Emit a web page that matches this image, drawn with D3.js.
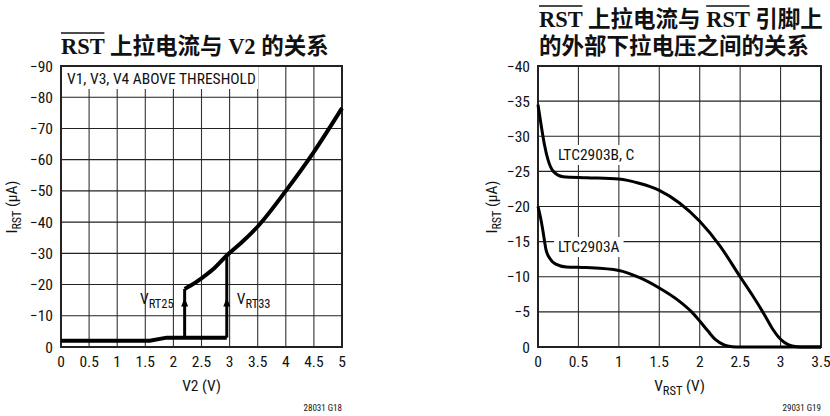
<!DOCTYPE html>
<html>
<head>
<meta charset="utf-8">
<script src="https://d3js.org/d3.v7.min.js"></script>
<style>
body { margin: 0; background: #fff; }
text { fill: #111; }
</style>
</head>
<body>
<svg id="chart" width="830" height="416"></svg>
<script>
// ---- left chart data: IRST vs V2 ----
const leftXTicks = [0, 0.5, 1, 1.5, 2, 2.5, 3, 3.5, 4, 4.5, 5];
const leftYTicks = [0, -10, -20, -30, -40, -50, -60, -70, -80, -90];
const lowX = [0, 1.58, 1.88, 2.95];
const lowY = [-2, -2, -3, -3];
const rt25X = [2.2, 2.2];
const rt25Y = [-3, -18.6];
const rt33X = [2.95, 2.95];
const rt33Y = [-3, -29.3];
const mainX = [2.2, 2.3, 2.5, 2.7, 2.95, 3.25, 3.5, 4, 4.5, 5];
const mainY = [-18.6, -19.6, -22, -24.8, -29.3, -34.1, -38.6, -50, -62.5, -76.5];

// ---- right chart data: IRST vs VRST ----
const rightXTicks = [0, 0.5, 1, 1.5, 2, 2.5, 3, 3.5];
const rightYTicks = [0, -5, -10, -15, -20, -25, -30, -35, -40];
const bcX = [0, 0.04, 0.08, 0.125, 0.19, 0.31, 0.6, 1.0, 1.25, 1.5, 1.75, 2.0, 2.25, 2.5, 2.65, 2.8, 2.9, 3.0, 3.1, 3.2, 3.3, 3.5];
const bcY = [-34.5, -31.5, -28.8, -26.6, -25, -24.25, -24.1, -23.9, -23.3, -22.3, -20.5, -17.9, -14.4, -10.0, -7.4, -4.6, -2.6, -1.1, -0.3, -0.05, 0, 0];
const aX = [0, 0.03, 0.06, 0.1, 0.147, 0.22, 0.35, 0.6, 1.0, 1.25, 1.5, 1.75, 1.9, 2.0, 2.1, 2.2, 2.3, 2.4, 2.5, 3.5];
const aY = [-20, -18.5, -16.6, -13.8, -12.6, -11.8, -11.4, -11.3, -10.9, -9.9, -8.4, -6.5, -5.0, -3.7, -2.3, -1.0, -0.3, -0.05, 0, 0];

const svg = d3.select("#chart");
const FONT = "'Liberation Sans Narrow', 'Arial Narrow', 'Roboto Condensed', sans-serif";
const TITLE_FONT = "'Liberation Serif', 'Noto Sans CJK SC', serif";

function drawTitle(x, y, parts) {
    // parts: [text, overline?]
    const t = svg.append("text")
        .attr("x", x).attr("y", y)
        .style("font-family", TITLE_FONT)
        .style("font-weight", "bold")
        .style("font-size", "22.5px");
    parts.forEach(p => t.append("tspan").text(p[0]));
    // overline for RST pieces
    let idx = 0;
    const node = t.node();
    parts.forEach(p => {
        if (p[1]) {
            const a = node.getExtentOfChar(idx);
            const b = node.getExtentOfChar(idx + p[0].length - 1);
            svg.append("line")
                .attr("x1", a.x).attr("x2", b.x + b.width)
                .attr("y1", y - 21).attr("y2", y - 21)
                .attr("stroke", "#111").attr("stroke-width", 1.6);
        }
        idx += p[0].length;
    });
}

function drawFrame(x, y, xTicks, yTicks) {
    const [x0, x1] = x.range();
    const [y0, y1] = y.range();
    const g = svg.append("g");
    g.selectAll(".vg").data(xTicks).enter().append("line")
        .attr("x1", d => x(d)).attr("x2", d => x(d))
        .attr("y1", y0).attr("y2", y1)
        .attr("stroke", "#333").attr("stroke-width", 1.1);
    g.selectAll(".hg").data(yTicks).enter().append("line")
        .attr("x1", x0).attr("x2", x1)
        .attr("y1", d => y(d)).attr("y2", d => y(d))
        .attr("stroke", "#222").attr("stroke-width", 1.1);
    g.append("rect")
        .attr("x", x0).attr("y", y1)
        .attr("width", x1 - x0).attr("height", y0 - y1)
        .attr("fill", "none").attr("stroke", "#222").attr("stroke-width", 2);
    svg.append("g").selectAll("text").data(yTicks).enter().append("text")
        .attr("x", x0 - 8).attr("y", d => y(d)).attr("dy", "0.36em")
        .attr("text-anchor", "end")
        .style("font-family", FONT).style("font-size", "15.5px")
        .text(d => d === 0 ? "0" : "\u2212" + Math.abs(d));
    svg.append("g").selectAll("text").data(xTicks).enter().append("text")
        .attr("x", d => x(d)).attr("y", y0 + 20)
        .attr("text-anchor", "middle")
        .style("font-family", FONT).style("font-size", "15.5px")
        .text(d => d);
}

function yLabel(cx, cy) {
    const t = svg.append("text")
        .attr("transform", `translate(${cx},${cy}) rotate(-90)`)
        .attr("text-anchor", "middle")
        .style("font-family", FONT).style("font-size", "15.5px");
    t.append("tspan").text("I");
    t.append("tspan").attr("dy", 4).style("font-size", "12px").text("RST");
    t.append("tspan").attr("dy", -4).text(" (\u00b5A)");
}

function labelBox(x, y, txt, size) {
    const g = svg.append("g");
    const r = g.append("rect").attr("fill", "#fff");
    const t = g.append("text").attr("x", x).attr("y", y)
        .style("font-family", FONT).style("font-size", size + "px").text(txt);
    const bb = t.node().getBBox();
    r.attr("x", bb.x - 4).attr("y", bb.y - 1)
        .attr("width", bb.width + 8).attr("height", bb.height + 2);
}

const zip = (a, b) => a.map((v, i) => [v, b[i]]);

// ================= LEFT =================
const xL = d3.scaleLinear().domain([0, 5]).range([61, 342]);
const yL = d3.scaleLinear().domain([0, -90]).range([347, 66]);
drawTitle(61, 54, [["RST", true], [" 上拉电流与 V2 的关系", false]]);
drawFrame(xL, yL, leftXTicks, leftYTicks);

// note box
svg.append("rect").attr("x", xL(0) + 1).attr("y", yL(-90) + 1)
    .attr("width", 196).attr("height", 22).attr("fill", "#fff");
svg.append("text").attr("x", xL(0) + 6).attr("y", yL(-90) + 18)
    .style("font-family", FONT).style("font-size", "15.5px")
    .text("V1, V3, V4 ABOVE THRESHOLD");

const lineL = d3.line().x(d => xL(d[0])).y(d => yL(d[1]));
svg.append("path").datum(zip(lowX, lowY)).attr("d", lineL)
    .attr("fill", "none").attr("stroke", "#000").attr("stroke-width", 4);
svg.append("path").datum(zip(rt25X, rt25Y)).attr("d", lineL)
    .attr("fill", "none").attr("stroke", "#000").attr("stroke-width", 3);
svg.append("path").datum(zip(rt33X, rt33Y)).attr("d", lineL)
    .attr("fill", "none").attr("stroke", "#000").attr("stroke-width", 3);
svg.append("path").datum(zip(mainX, mainY))
    .attr("d", lineL.curve(d3.curveMonotoneX))
    .attr("fill", "none").attr("stroke", "#000").attr("stroke-width", 4)
    .attr("stroke-linejoin", "round");

// arrowheads
[2.2, 2.95].forEach(v => {
    const px = xL(v), tip = yL(-15.8), base = yL(-13);
    svg.append("path")
        .attr("d", `M${px},${tip} L${px - 3.5},${base} L${px + 3.5},${base} Z`)
        .attr("fill", "#000");
});
function vrt(x, y, sub, anchor) {
    const t = svg.append("text").attr("x", x).attr("y", y)
        .attr("text-anchor", anchor)
        .style("font-family", FONT).style("font-size", "15.5px");
    t.append("tspan").text("V");
    t.append("tspan").attr("dy", 4).style("font-size", "12.5px").text(sub);
}
vrt(xL(2.2) - 11, yL(-14.5) + 2, "RT25", "end");
vrt(xL(2.95) + 10, yL(-14.5) + 2, "RT33", "start");

svg.append("text").attr("x", (xL(0) + xL(5)) / 2).attr("y", 391)
    .attr("text-anchor", "middle")
    .style("font-family", FONT).style("font-size", "15.5px").text("V2 (V)");
yLabel(17, 207);
svg.append("text").attr("x", 342).attr("y", 411).attr("text-anchor", "end")
    .style("font-family", FONT).style("font-size", "9px").text("28031 G18");

// ================= RIGHT =================
const xR = d3.scaleLinear().domain([0, 3.5]).range([538, 821]);
const yR = d3.scaleLinear().domain([0, -40]).range([347, 66]);
drawTitle(539, 27, [["RST", true], [" 上拉电流与 ", false], ["RST", true], [" 引脚上", false]]);
drawTitle(539, 54, [["的外部下拉电压之间的关系", false]]);
drawFrame(xR, yR, rightXTicks, rightYTicks);

const lineR = d3.line().x(d => xR(d[0])).y(d => yR(d[1])).curve(d3.curveMonotoneX);
labelBox(xR(0) + 20, 160, "LTC2903B, C", 15.5);
labelBox(xR(0) + 20, 252, "LTC2903A", 15.5);
svg.append("path").datum(zip(bcX, bcY)).attr("d", lineR)
    .attr("fill", "none").attr("stroke", "#000").attr("stroke-width", 3);
svg.append("path").datum(zip(aX, aY)).attr("d", lineR)
    .attr("fill", "none").attr("stroke", "#000").attr("stroke-width", 3);

const xlab = svg.append("text").attr("x", (xR(0) + xR(3.5)) / 2).attr("y", 391)
    .attr("text-anchor", "middle")
    .style("font-family", FONT).style("font-size", "15.5px");
xlab.append("tspan").text("V");
xlab.append("tspan").attr("dy", 4).style("font-size", "12.5px").text("RST");
xlab.append("tspan").attr("dy", -4).text(" (V)");
yLabel(497, 207);
svg.append("text").attr("x", 821).attr("y", 411).attr("text-anchor", "end")
    .style("font-family", FONT).style("font-size", "9px").text("29031 G19");
</script>
</body>
</html>
